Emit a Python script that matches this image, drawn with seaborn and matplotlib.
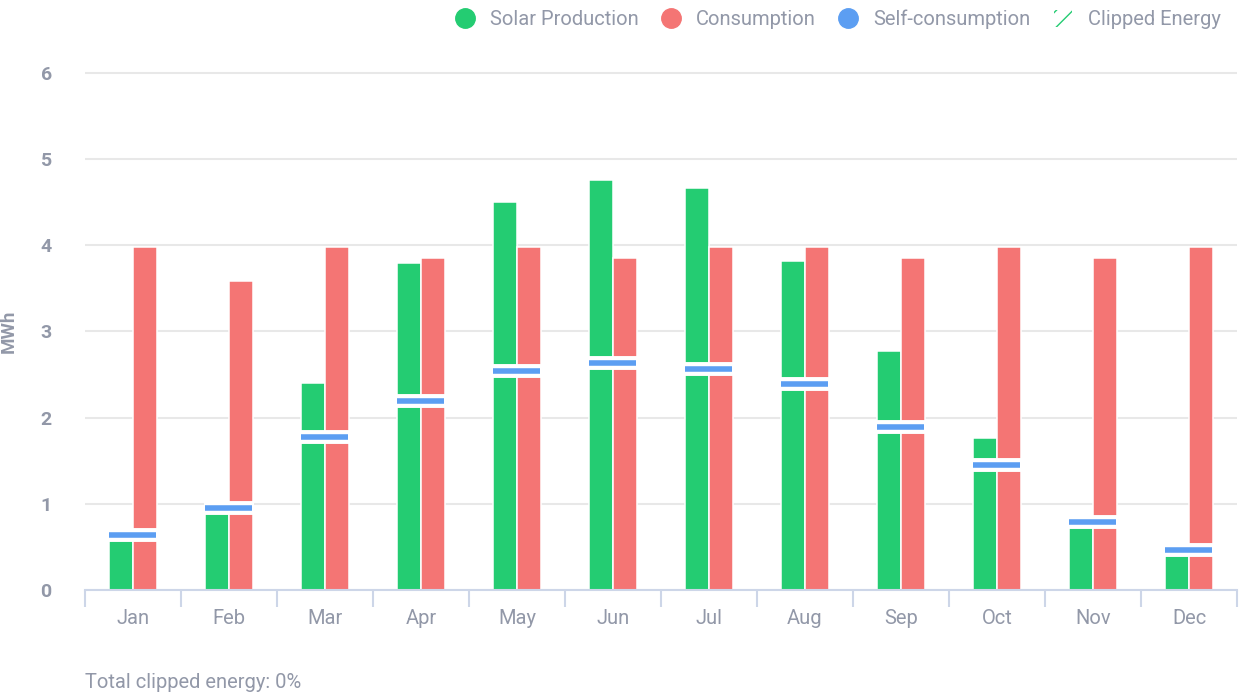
import pandas as pd
import numpy as np
import matplotlib
matplotlib.use("Agg")
import matplotlib.pyplot as plt
from matplotlib.lines import Line2D
from matplotlib.patches import Patch
import seaborn as sns

sns.set_theme(style="white")
plt.rcParams['font.family'] = ['Roboto', 'DejaVu Sans']

# ---------------------------
# data (MWh per month)
# ---------------------------
months = ['Jan', 'Feb', 'Mar', 'Apr', 'May', 'Jun', 'Jul', 'Aug', 'Sep', 'Oct', 'Nov', 'Dec']
solar_production = [0.64, 0.95, 2.40, 3.80, 4.50, 4.76, 4.67, 3.82, 2.77, 1.76, 0.79, 0.46]
consumption = [3.98, 3.59, 3.98, 3.85, 3.98, 3.85, 3.98, 3.98, 3.85, 3.98, 3.85, 3.98]
self_consumption = [0.64, 0.95, 1.78, 2.19, 2.54, 2.63, 2.56, 2.39, 1.89, 1.45, 0.79, 0.46]
clipped_pct = 0

GREEN = '#24cc72'
RED = '#f47574'
BLUE = '#5c9ef2'
TEXT = '#9298a8'
AXIS = '#cdd6e8'
GRID = '#e8e8e8'

df = pd.DataFrame({
    'month': months * 2,
    'series': ['Solar Production'] * len(months) + ['Consumption'] * len(months),
    'value': solar_production + consumption,
})

fig = plt.figure(figsize=(12.41, 6.96), dpi=100)
ax = fig.add_axes([85 / 1241, 1 - 590 / 696, 1152 / 1241, (590 - 55.7) / 696])

ax.yaxis.grid(True, color=GRID, linewidth=1.5, zorder=0)
ax.set_axisbelow(True)

sns.barplot(data=df, x='month', y='value', hue='series', order=months,
            palette=[GREEN, RED], width=0.5, saturation=1, errorbar=None,
            edgecolor='white', linewidth=1.1, legend=False, ax=ax, zorder=2)

# self-consumption marker across both bars, with white gap around it
xpos = np.arange(len(months))
ax.hlines(self_consumption, xpos - 0.26, xpos + 0.26, color='white',
          linewidth=10, capstyle='butt', zorder=3)
ax.hlines(self_consumption, xpos - 0.245, xpos + 0.235, color=BLUE,
          linewidth=4, capstyle='butt', zorder=4)

ax.set_ylim(0, 6.2)
ax.set_xlim(-0.5, len(months) - 0.5)
ax.set_yticks(range(0, 7))
ax.set_xticks(xpos)
ax.set_xticks(np.arange(-0.5, len(months), 1), minor=True)

for s in ['top', 'right', 'left']:
    ax.spines[s].set_visible(False)
ax.spines['bottom'].set_color(AXIS)
ax.spines['bottom'].set_linewidth(1.5)

ax.tick_params(axis='x', which='major', length=0, pad=14, labelsize=14.5, labelcolor=TEXT)
ax.tick_params(axis='x', which='minor', length=12, width=1.5, color=AXIS, bottom=True)
ax.tick_params(axis='y', length=0, pad=24, labelsize=14, labelcolor=TEXT)
for lab in ax.get_yticklabels():
    lab.set_fontweight('bold')

ax.set_xlabel('')
ax.set_ylabel('MWh', color=TEXT, fontsize=13.5, fontweight='bold')
ax.yaxis.set_label_coords((18 - 85) / 1152, 3 / 6.2)

handles = [
    Line2D([], [], marker='o', linestyle='', markersize=14, color=GREEN),
    Line2D([], [], marker='o', linestyle='', markersize=14, color=RED),
    Line2D([], [], marker='o', linestyle='', markersize=14, color=BLUE),
    Patch(facecolor='white', edgecolor=GREEN, hatch='//', linewidth=0),
]
labels = ['Solar Production', 'Consumption', 'Self-consumption', 'Clipped Energy']
fig.legend(handles, labels, loc='upper right', bbox_to_anchor=(1239 / 1241, 1.012),
           ncol=4, frameon=False, fontsize=14.5, labelcolor=TEXT,
           handlelength=0.9, handleheight=0.9, handletextpad=0.8, columnspacing=1.15)

fig.text(85 / 1241, 1 - 682 / 696, f'Total clipped energy: {clipped_pct}%',
         color=TEXT, fontsize=14.5, va='center', ha='left')

fig.savefig('out.png', dpi=100)
